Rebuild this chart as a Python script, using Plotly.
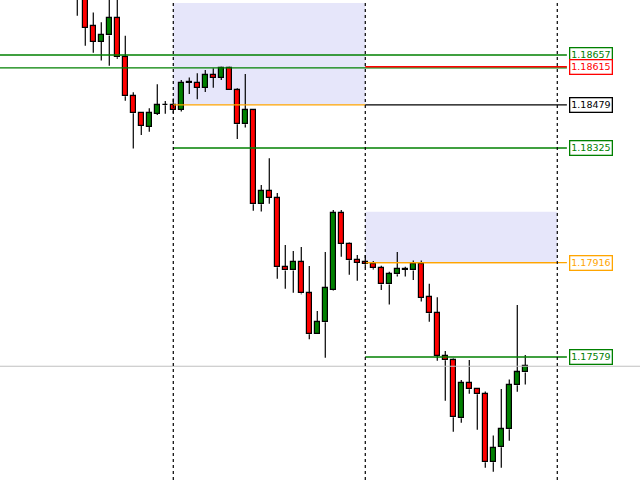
import plotly.graph_objects as go

# hourly candles (index 0..56)
opens = [1.18920, 1.18880, 1.18760, 1.18704, 1.18727, 1.18788, 1.18649, 1.18510, 1.18449, 1.18401,
         1.18447, 1.18477, 1.18477, 1.18462, 1.18557, 1.18557, 1.18540, 1.18585, 1.18576, 1.18610,
         1.18531, 1.18410, 1.18460, 1.18124, 1.18171, 1.18145, 1.17899, 1.17888, 1.17917, 1.17806,
         1.17660, 1.17703, 1.17819, 1.18092, 1.17983, 1.17924, 1.17917, 1.17910, 1.17896, 1.17838,
         1.17874, 1.17891, 1.17888, 1.17910, 1.17792, 1.17735, 1.17584, 1.17567, 1.17360, 1.17485,
         1.17464, 1.17446, 1.17203, 1.17257, 1.17321, 1.17478, 1.17524]
highs = [1.18940, 1.18900, 1.18809, 1.18774, 1.18860, 1.18870, 1.18726, 1.18524, 1.18449, 1.18467,
         1.18553, 1.18493, 1.18502, 1.18568, 1.18577, 1.18592, 1.18603, 1.18610, 1.18615, 1.18615,
         1.18538, 1.18589, 1.18464, 1.18193, 1.18288, 1.18164, 1.17979, 1.17957, 1.17972, 1.17904,
         1.17743, 1.17954, 1.18104, 1.18104, 1.17988, 1.17943, 1.17943, 1.17922, 1.17905, 1.17883,
         1.17954, 1.17901, 1.17923, 1.17923, 1.17840, 1.17792, 1.17600, 1.17574, 1.17497, 1.17568,
         1.17468, 1.17456, 1.17299, 1.17465, 1.17499, 1.17765, 1.17586]
lows = [1.18797, 1.18690, 1.18665, 1.18637, 1.18619, 1.18644, 1.18494, 1.18323, 1.18371, 1.18383,
        1.18443, 1.18447, 1.18449, 1.18455, 1.18518, 1.18499, 1.18525, 1.18540, 1.18568, 1.18531,
        1.18357, 1.18398, 1.18101, 1.18098, 1.18126, 1.17858, 1.17823, 1.17808, 1.17803, 1.17642,
        1.17660, 1.17576, 1.17816, 1.17937, 1.17873, 1.17851, 1.17898, 1.17891, 1.17818, 1.17766,
        1.17866, 1.17866, 1.17854, 1.17777, 1.17705, 1.17566, 1.17423, 1.17312, 1.17344, 1.17448,
        1.17319, 1.17184, 1.17169, 1.17184, 1.17280, 1.17455, 1.17481]
closes = [1.18880, 1.18754, 1.18704, 1.18728, 1.18788, 1.18649, 1.18510, 1.18449, 1.18405, 1.18449,
          1.18477, 1.18477, 1.18462, 1.18557, 1.18557, 1.18540, 1.18585, 1.18576, 1.18610, 1.18531,
          1.18410, 1.18460, 1.18124, 1.18171, 1.18148, 1.17899, 1.17888, 1.17917, 1.17806, 1.17660,
          1.17703, 1.17824, 1.18092, 1.17983, 1.17924, 1.17916, 1.17910, 1.17896, 1.17838, 1.17874,
          1.17892, 1.17891, 1.17910, 1.17791, 1.17735, 1.17584, 1.17567, 1.17364, 1.17485, 1.17464,
          1.17446, 1.17203, 1.17253, 1.17321, 1.17478, 1.17524, 1.17546]

# day separators (candle index)
day_starts = [12, 36, 60]

# zones
zone_x0 = [12, 36]
zone_x1 = [36, 60]
zone_low = [1.18479, 1.17916]
zone_high = [1.18843, 1.18097]

# levels with labels
level_prices = [1.18657, 1.18615, 1.18479, 1.18325, 1.17916, 1.17579]
level_labels = ["1.18657", "1.18615", "1.18479", "1.18325", "1.17916", "1.17579"]
level_colors = ["#008000", "#ff0000", "#000000", "#008000", "#ffa500", "#008000"]
level_start = [None, 36, 36, 12, 36, 36]

X_LEFT = -9.66
X_RIGHT = 70.34
LABEL_X = 61.45
LINE_END = 61.2

n = len(opens)
idx = list(range(n))

# wicks (split around body so they don't cross it)
wx, wy = [], []
for i in range(n):
    top = max(opens[i], closes[i])
    bot = min(opens[i], closes[i])
    wx += [i, i, None, i, i, None]
    wy += [highs[i], top, None, bot, lows[i], None]

MIN_BODY = 0.00002
bases = [min(o, c) for o, c in zip(opens, closes)]
heights = [max(abs(c - o), MIN_BODY) for o, c in zip(opens, closes)]
colors = ["#008000" if c > o else "#ff0000" for o, c in zip(opens, closes)]

fig = go.Figure()
fig.add_trace(go.Scatter(x=wx, y=wy, mode="lines", line=dict(color="black", width=1.2),
                         hoverinfo="skip", showlegend=False))
fig.add_trace(go.Bar(x=idx, y=heights, base=bases, width=0.6,
                     marker=dict(color=colors, line=dict(color="black", width=1.2)),
                     showlegend=False))

shapes = []
for x0, x1, lo, hi in zip(zone_x0, zone_x1, zone_low, zone_high):
    shapes.append(dict(type="rect", x0=x0, x1=x1, y0=lo, y1=hi, xref="x", yref="y",
                       fillcolor="#e6e6fa", line=dict(width=0), layer="below"))
    shapes.append(dict(type="line", x0=x0, x1=x1, y0=lo, y1=lo, xref="x", yref="y",
                       line=dict(color="#ffa500", width=1.3)))

# green line just below 1.18615 across whole chart
shapes.append(dict(type="line", x0=X_LEFT, x1=LINE_END, y0=1.18611, y1=1.18611,
                   line=dict(color="#008000", width=1.4)))

# bid line
shapes.append(dict(type="line", x0=X_LEFT, x1=X_RIGHT, y0=closes[-1], y1=closes[-1],
                   line=dict(color="#c0c0c0", width=1.2)))

for p, c, s in zip(level_prices, level_colors, level_start):
    x0 = X_LEFT if s is None else s
    shapes.append(dict(type="line", x0=x0, x1=LINE_END, y0=p, y1=p, xref="x", yref="y",
                       line=dict(color=c, width=1.3)))

for d in day_starts:
    shapes.append(dict(type="line", x0=d, x1=d, y0=0, y1=1, xref="x", yref="paper",
                       line=dict(color="black", width=1.2, dash="3px,3px")))

annotations = []
for p, t, c in zip(level_prices, level_labels, level_colors):
    annotations.append(dict(x=LABEL_X, y=p, xref="x", yref="y", text=t, showarrow=False,
                            xanchor="left", yanchor="middle",
                            font=dict(family="DejaVu Sans", size=9.5, color=c),
                            bgcolor="white", bordercolor=c, borderwidth=1.3, borderpad=1))

fig.update_layout(
    width=640, height=480,
    margin=dict(l=0, r=0, t=0, b=0),
    paper_bgcolor="white", plot_bgcolor="white",
    barmode="overlay", bargap=0,
    shapes=shapes, annotations=annotations,
    xaxis=dict(range=[X_LEFT, X_RIGHT], visible=False, showgrid=False, zeroline=False),
    yaxis=dict(range=[1.171399, 1.188533], visible=False, showgrid=False, zeroline=False),
    showlegend=False,
)

fig.write_html("out.html", config={"displayModeBar": False},
               post_script="document.body.style.margin='0';")
